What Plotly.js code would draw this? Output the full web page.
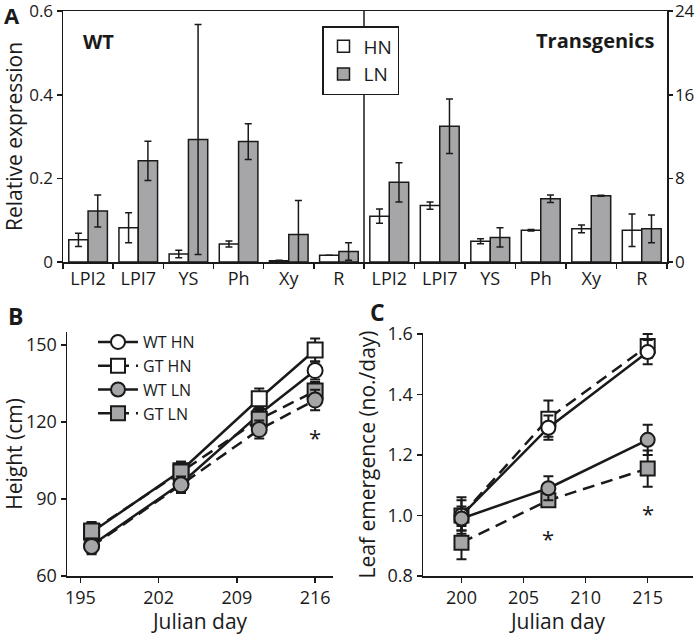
<!DOCTYPE html>
<html>
<head>
<meta charset="utf-8">
<script src="https://cdn.plot.ly/plotly-3.0.1.min.js"></script>
<style>
  body { margin: 0; background: #fff; }
  #plot { width: 696px; height: 635px; }
</style>
</head>
<body>
<div id="plot"></div>
<script>
// panel A: relative expression (WT on left axis, transgenics on right axis)
var tissues = ['LPI2', 'LPI7', 'YS', 'Ph', 'Xy', 'R'];
var wtHN = [0.053, 0.082, 0.019, 0.043, 0.003, 0.016];
var wtHNerr = [0.016, 0.036, 0.009, 0.007, 0.001, 0];
var wtLN = [0.122, 0.242, 0.293, 0.288, 0.066, 0.025];
var wtLNerr = [0.038, 0.047, 0.275, 0.043, 0.081, 0.021];
var tgHN = [4.39, 5.40, 1.98, 3.04, 3.17, 3.04];
var tgHNerr = [0.67, 0.35, 0.24, 0.08, 0.36, 1.55];
var tgLN = [7.62, 12.99, 2.35, 6.05, 6.34, 3.17];
var tgLNerr = [1.88, 2.6, 0.92, 0.35, 0.05, 1.33];

// panel B: height (cm)
var daysB = [196, 204, 211, 216];
var bWtHN = [72, 96, 123, 140];
var bWtHNerr = [3, 3, 3.5, 3.5];
var bGtHN = [77, 101, 129, 148];
var bGtHNerr = [3.5, 3.5, 4, 4.5];
var bWtLN = [71.5, 95.5, 117, 128.5];
var bWtLNerr = [3, 3.2, 3.5, 4];
var bGtLN = [77.5, 100.5, 121, 132];
var bGtLNerr = [3.5, 4, 3.5, 3.5];
var starB = {x: [216], y: [114]};

// panel C: leaf emergence (no./day)
var daysC = [200, 207, 215];
var cWtHN = [1.0, 1.29, 1.54];
var cWtHNerr = [0.05, 0.04, 0.04];
var cGtHN = [1.0, 1.32, 1.56];
var cGtHNerr = [0.06, 0.06, 0.04];
var cWtLN = [0.99, 1.09, 1.25];
var cWtLNerr = [0.04, 0.04, 0.05];
var cGtLN = [0.91, 1.05, 1.155];
var cGtLNerr = [0.055, 0.02, 0.06];
var starC = {x: [207, 215], y: [0.927, 1.007]};

var FONT = 'Open Sans, Noto Sans, sans-serif';
var INK = '#1a1a1a';
var GREY = '#a6a6a8';
var W = 696, H = 635;
function px(v) { return v / W; }
function py(v) { return 1 - v / H; }

function barTrace(y, err, name, fill, xa, ya, show) {
  return {
    type: 'bar', x: tissues, y: y, name: name,
    xaxis: xa, yaxis: ya, legend: 'legend', showlegend: show,
    marker: {color: fill, line: {color: INK, width: 1.5}},
    error_y: {type: 'data', array: err, color: INK, thickness: 1.5, width: 3.5}
  };
}

var DASH = '12px,7px';
function lineTrace(x, y, err, name, fill, sym, dash, xa, ya, show, rank, msize) {
  return {
    type: 'scatter', mode: 'lines+markers', x: x, y: y, name: name,
    xaxis: xa, yaxis: ya, legend: 'legend2', showlegend: show, legendrank: rank,
    line: {color: INK, width: 2.5, dash: dash},
    marker: {symbol: sym, size: msize, color: fill, line: {color: INK, width: 2}},
    error_y: {type: 'data', array: err, color: INK, thickness: 2, width: 5},
    cliponaxis: false
  };
}

var data = [
  barTrace(wtHN, wtHNerr, 'HN', '#ffffff', 'x', 'y', true),
  barTrace(wtLN, wtLNerr, 'LN', GREY, 'x', 'y', true),
  barTrace(tgHN, tgHNerr, 'HN', '#ffffff', 'x2', 'y2', false),
  barTrace(tgLN, tgLNerr, 'LN', GREY, 'x2', 'y2', false),

  // panel B as drawn: HN lines solid, LN lines dashed
  lineTrace(daysB, bWtHN, bWtHNerr, 'WT HN', '#ffffff', 'circle', 'solid', 'x3', 'y3', false, 1, 15),
  lineTrace(daysB, bGtHN, bGtHNerr, 'GT HN', '#ffffff', 'square', 'solid', 'x3', 'y3', false, 2, 15),
  lineTrace(daysB, bGtLN, bGtLNerr, 'GT LN', GREY, 'square', DASH, 'x3', 'y3', false, 4, 15),
  lineTrace(daysB, bWtLN, bWtLNerr, 'WT LN', GREY, 'circle', DASH, 'x3', 'y3', false, 3, 15),

  // panel C: WT solid, GT dashed (these feed the legend shown in B)
  lineTrace(daysC, cGtHN, cGtHNerr, 'GT HN', '#ffffff', 'square', DASH, 'x4', 'y4', true, 2, 14),
  lineTrace(daysC, cWtHN, cWtHNerr, 'WT HN', '#ffffff', 'circle', 'solid', 'x4', 'y4', true, 1, 14),
  lineTrace(daysC, cGtLN, cGtLNerr, 'GT LN', GREY, 'square', DASH, 'x4', 'y4', true, 4, 14),
  lineTrace(daysC, cWtLN, cWtLNerr, 'WT LN', GREY, 'circle', 'solid', 'x4', 'y4', true, 3, 14)
];

var axisBase = {
  showline: true, linecolor: INK, linewidth: 1.5,
  ticks: 'outside', ticklen: 5, tickwidth: 1.5, tickcolor: INK,
  showgrid: false, zeroline: false, fixedrange: true,
  ticklabeloverflow: 'allow',
  tickfont: {family: FONT, size: 18, color: INK}
};
function ax(extra) { return Object.assign({}, axisBase, extra); }

var titleFont = {family: FONT, size: 21, color: INK};
var topA = 11, baseA = 262;

function label(text, x, y, size) {
  return {text: text, xref: 'paper', yref: 'paper', x: px(x), y: py(y),
    xanchor: 'center', yanchor: 'middle', showarrow: false,
    font: {family: FONT, size: size, color: INK}};
}

var layout = {
  width: W, height: H,
  margin: {l: 0, r: 0, t: 0, b: 0},
  paper_bgcolor: '#ffffff', plot_bgcolor: 'rgba(0,0,0,0)',
  font: {family: FONT, color: INK},
  barmode: 'group', bargap: 0.23, bargroupgap: 0,

  xaxis: ax({domain: [px(63), px(364)], anchor: 'y', type: 'category',
    categoryorder: 'array', categoryarray: tissues, range: [-0.5, 5.5],
    tickson: 'boundaries', mirror: true}),
  xaxis2: ax({domain: [px(364), px(667)], anchor: 'y2', type: 'category',
    categoryorder: 'array', categoryarray: tissues, range: [-0.5, 5.5],
    tickson: 'boundaries', mirror: true}),
  yaxis: ax({domain: [py(baseA), py(topA)], anchor: 'x', range: [0, 0.6005],
    tickvals: [0, 0.2, 0.4, 0.6], ticktext: ['0', '0.2', '0.4', '0.6'],
    tickfont: {family: FONT, size: 17, color: INK},
    title: {text: 'Relative expression', font: titleFont, standoff: 9}}),
  yaxis2: ax({domain: [py(baseA), py(topA)], anchor: 'x2', side: 'right', range: [0, 24.02],
    tickvals: [0, 8, 16, 24], ticklen: 4, ticklabelstandoff: -1,
    tickfont: {family: FONT, size: 17, color: INK}}),

  xaxis3: ax({domain: [px(67), px(333)], anchor: 'y3', range: [193.8, 217.6],
    tickvals: [195, 202, 209, 216],
    title: {text: 'Julian day', font: titleFont, standoff: 9}}),
  yaxis3: ax({domain: [py(576), py(332)], anchor: 'x3', range: [60, 155],
    tickvals: [60, 90, 120, 150],
    title: {text: 'Height (cm)', font: titleFont, standoff: 6}}),

  xaxis4: ax({domain: [px(423), px(693)], anchor: 'y4', range: [196.9, 218.65],
    tickvals: [200, 205, 210, 215],
    title: {text: 'Julian day', font: titleFont, standoff: 9}}),
  yaxis4: ax({domain: [py(576), py(333)], anchor: 'x4', range: [0.8, 1.603],
    tickvals: [0.8, 1.0, 1.2, 1.4, 1.6], tickformat: '.1f',
    title: {text: 'Leaf emergence (no./day)', font: titleFont, standoff: 6}}),

  legend: {
    x: px(322), y: py(26), xanchor: 'left', yanchor: 'top',
    bordercolor: INK, borderwidth: 1.5, bgcolor: '#ffffff',
    font: {family: FONT, size: 19, color: INK},
    tracegroupgap: 0, itemwidth: 30
  },
  legend2: {
    x: px(93), y: py(325), xanchor: 'left', yanchor: 'top',
    bgcolor: 'rgba(0,0,0,0)', borderwidth: 0,
    font: {family: FONT, size: 16, color: INK},
    tracegroupgap: 0, itemwidth: 40
  },

  shapes: [
    {type: 'line', xref: 'paper', yref: 'paper', x0: px(364), x1: px(364),
      y0: py(baseA), y1: py(topA), line: {color: INK, width: 1.5}}
  ],

  annotations: [
    label('<b>A</b>', 12, 15, 22),
    label('<b>B</b>', 15, 316, 23),
    label('<b>C</b>', 377, 312, 23),
    label('<b>WT</b>', 98, 41, 20),
    label('<b>Transgenics</b>', 595, 40, 20)
  ]
};

starB.x.forEach(function (x, i) {
  layout.annotations.push({text: '*', xref: 'x3', yref: 'y3', x: x, y: starB.y[i],
    xanchor: 'center', yanchor: 'middle', showarrow: false,
    font: {family: FONT, size: 22, color: INK}});
});
starC.x.forEach(function (x, i) {
  layout.annotations.push({text: '*', xref: 'x4', yref: 'y4', x: x, y: starC.y[i],
    xanchor: 'center', yanchor: 'middle', showarrow: false,
    font: {family: FONT, size: 22, color: INK}});
});

Plotly.newPlot('plot', data, layout, {staticPlot: true});
</script>
</body>
</html>
